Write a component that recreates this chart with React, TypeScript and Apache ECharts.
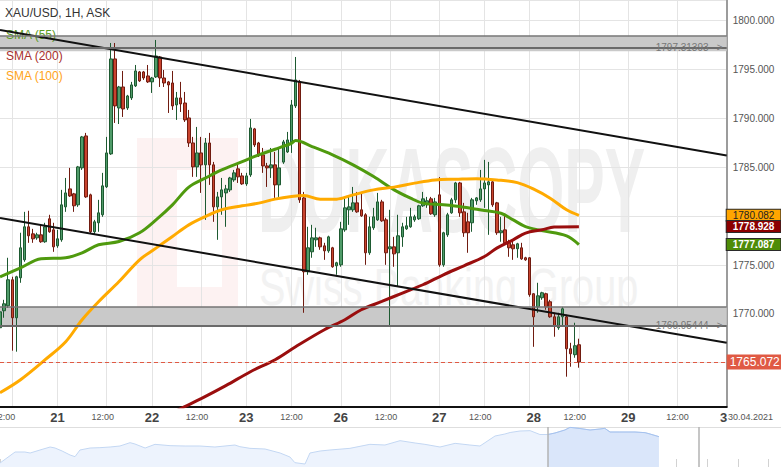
import React, { useEffect, useRef } from "react";
import * as echarts from "echarts";

const FONT = "'Liberation Sans', Arial, Helvetica, sans-serif";

// ---- Hourly candles (XAU/USD, 1H, ASK) ----
const opens = [
  1768.58, 1770.32, 1770.83, 1773.49, 1769.6, 1773.69, 1775.53, 1778.91, 1778.19, 1777.78,
  1778.09, 1777.38, 1779.73, 1778.6, 1776.96, 1777.58, 1780.95, 1782.79, 1782.28, 1781.16,
  1784.94, 1788.21, 1782.18, 1778.4, 1779.32, 1780.14, 1783.0, 1786.37, 1796.09, 1791.07,
  1793.22, 1791.07, 1792.1, 1793.33, 1794.76, 1794.76, 1794.35, 1793.74, 1794.25, 1796.29,
  1794.14, 1793.74, 1793.63, 1791.38, 1792.1, 1791.58, 1790.05, 1787.49, 1785.04, 1786.47,
  1785.25, 1787.49, 1785.25, 1780.95, 1781.97, 1782.38, 1782.69, 1783.71, 1784.84, 1784.12,
  1783.3, 1784.22, 1788.93, 1787.49, 1786.27, 1785.14, 1784.94, 1785.25, 1783.2, 1785.53,
  1786.57, 1787.6, 1791.28, 1793.74, 1781.87, 1774.31, 1776.35, 1777.58, 1777.78, 1776.96,
  1776.45, 1776.76, 1774.92, 1775.02, 1778.6, 1780.65, 1780.65, 1781.36, 1780.65, 1780.14,
  1776.25, 1778.81, 1779.62, 1781.46, 1779.62, 1776.66, 1776.86, 1776.25, 1777.88, 1778.7,
  1778.91, 1779.62, 1779.73, 1781.06, 1781.16, 1781.77, 1780.14, 1782.18, 1775.02, 1778.09,
  1780.34, 1781.67, 1783.4, 1780.44, 1779.42, 1779.32, 1781.57, 1781.67, 1782.79, 1783.2,
  1783.51, 1781.36, 1778.3, 1778.6, 1777.27, 1777.07, 1776.66, 1776.76, 1775.74, 1775.74,
  1772.06, 1770.72, 1771.65, 1772.06, 1771.24, 1769.7, 1768.58, 1769.7, 1769.7, 1766.43,
  1765.82, 1766.84,
];
const closes = [
  1770.21, 1771.03, 1773.49, 1769.6, 1773.8, 1776.76, 1778.91, 1777.99, 1777.68, 1778.09,
  1777.38, 1778.91, 1778.4, 1776.86, 1777.68, 1781.16, 1782.38, 1782.07, 1781.06, 1785.04,
  1788.11, 1781.97, 1778.4, 1779.42, 1780.34, 1783.1, 1786.47, 1796.09, 1791.28, 1793.22,
  1790.97, 1792.3, 1793.43, 1794.86, 1793.84, 1794.14, 1793.74, 1794.14, 1796.39, 1794.14,
  1793.63, 1793.43, 1791.28, 1792.1, 1791.48, 1789.85, 1787.49, 1785.04, 1786.47, 1785.25,
  1787.49, 1785.25, 1780.95, 1781.97, 1782.69, 1782.79, 1783.91, 1784.43, 1784.02, 1783.3,
  1784.12, 1789.03, 1787.29, 1786.17, 1785.14, 1784.94, 1785.25, 1783.2, 1784.94, 1787.6,
  1787.8, 1791.38, 1793.94, 1781.67, 1774.31, 1776.76, 1777.78, 1777.78, 1776.86, 1776.45,
  1777.88, 1774.82, 1775.23, 1778.7, 1780.85, 1780.95, 1781.36, 1780.44, 1780.03, 1776.25,
  1778.91, 1779.93, 1781.46, 1779.52, 1776.25, 1776.86, 1776.14, 1777.99, 1778.91, 1779.01,
  1779.93, 1779.93, 1781.06, 1781.77, 1781.57, 1780.24, 1781.46, 1775.02, 1778.3, 1780.14,
  1781.67, 1783.4, 1780.34, 1778.3, 1778.3, 1781.67, 1781.87, 1782.79, 1783.4, 1783.51,
  1781.16, 1778.3, 1778.5, 1777.27, 1776.76, 1776.66, 1777.17, 1775.63, 1775.53, 1771.96,
  1769.7, 1771.85, 1772.16, 1770.72, 1769.7, 1768.78, 1769.7, 1770.52, 1766.43, 1765.92,
  1766.74, 1765.072,
];
const lows = [
  1768.17, 1769.6, 1770.62, 1766.23, 1766.13, 1773.18, 1775.33, 1777.27, 1777.27, 1777.58,
  1777.27, 1777.27, 1778.3, 1776.35, 1776.76, 1777.38, 1780.44, 1781.97, 1780.44, 1780.95,
  1784.73, 1781.87, 1778.19, 1778.09, 1778.4, 1779.93, 1782.89, 1786.27, 1789.54, 1789.43,
  1790.15, 1790.87, 1791.89, 1793.22, 1793.74, 1793.94, 1793.63, 1792.61, 1794.14, 1793.22,
  1793.22, 1790.56, 1790.87, 1789.85, 1790.66, 1789.64, 1787.08, 1784.02, 1784.02, 1782.38,
  1779.62, 1783.2, 1779.42, 1777.58, 1780.14, 1778.91, 1782.48, 1783.51, 1783.4, 1783.2,
  1783.1, 1784.02, 1787.08, 1786.06, 1784.43, 1782.99, 1783.91, 1781.87, 1781.97, 1785.35,
  1786.47, 1786.47, 1791.07, 1781.36, 1770.11, 1774.0, 1775.74, 1776.86, 1776.56, 1775.53,
  1776.25, 1774.72, 1774.0, 1774.82, 1778.4, 1779.11, 1780.44, 1780.34, 1779.93, 1775.02,
  1776.04, 1778.6, 1779.52, 1779.42, 1775.02, 1768.68, 1774.82, 1772.82, 1776.86, 1778.6,
  1778.81, 1779.42, 1779.62, 1780.95, 1780.85, 1780.14, 1779.93, 1774.82, 1774.82, 1777.88,
  1780.24, 1781.36, 1779.93, 1777.88, 1776.25, 1778.4, 1781.16, 1781.46, 1780.85, 1778.09,
  1780.95, 1778.09, 1777.38, 1777.07, 1775.84, 1775.53, 1775.74, 1775.53, 1775.43, 1771.75,
  1766.63, 1770.11, 1771.44, 1770.42, 1769.6, 1767.66, 1768.37, 1768.68, 1763.57, 1764.59,
  1765.51, 1764.49,
];
const highs = [
  1770.62, 1771.44, 1775.74, 1773.8, 1773.9, 1778.3, 1780.44, 1780.55, 1778.7, 1778.3,
  1779.11, 1779.32, 1780.14, 1779.32, 1778.6, 1782.69, 1783.91, 1784.94, 1782.38, 1785.14,
  1788.21, 1788.52, 1782.3, 1779.62, 1781.67, 1784.43, 1788.11, 1797.72, 1797.72, 1793.33,
  1794.86, 1792.41, 1793.74, 1795.47, 1794.86, 1794.86, 1795.47, 1794.25, 1798.03, 1796.39,
  1794.96, 1793.84, 1794.86, 1792.71, 1793.74, 1792.71, 1790.87, 1788.11, 1789.13, 1788.11,
  1788.0, 1788.52, 1785.55, 1782.48, 1783.91, 1783.2, 1784.02, 1784.73, 1785.25, 1784.43,
  1784.43, 1789.95, 1789.03, 1787.6, 1786.98, 1785.45, 1786.98, 1786.57, 1786.98, 1787.8,
  1788.62, 1791.89, 1796.29, 1793.94, 1782.48, 1778.91, 1779.11, 1778.81, 1777.9, 1777.27,
  1778.0, 1776.86, 1775.33, 1779.42, 1781.87, 1781.97, 1782.99, 1782.48, 1782.48, 1780.3,
  1779.93, 1780.85, 1782.38, 1781.67, 1779.83, 1780.65, 1777.88, 1780.14, 1779.32, 1779.93,
  1780.85, 1780.14, 1781.16, 1782.48, 1781.97, 1781.97, 1781.87, 1784.0, 1778.4, 1780.34,
  1781.87, 1783.51, 1783.51, 1781.36, 1780.34, 1781.87, 1781.95, 1784.73, 1785.76, 1785.55,
  1783.6, 1781.46, 1779.93, 1780.14, 1777.58, 1777.58, 1777.27, 1777.27, 1775.84, 1775.8,
  1772.1, 1773.18, 1772.26, 1772.16, 1771.44, 1770.11, 1770.11, 1770.72, 1769.91, 1767.04,
  1769.09, 1767.46,
];

// ---- Moving averages, read at [slot, value] ----
const sma55 = [
  [0, 1773.79], [5, 1774.71], [10, 1775.63], [16, 1775.74], [20, 1776.25], [24, 1777.07],
  [29, 1777.4], [34, 1778.3], [38, 1779.62], [42, 1781.16], [46, 1782.97], [50, 1783.89],
  [54, 1784.73], [59, 1785.58], [63, 1786.27], [67, 1786.85], [71, 1787.46], [72, 1787.73],
  [76, 1787.12], [81, 1786.27], [86, 1785.25], [91, 1784.05], [96, 1782.69], [100, 1781.84],
  [103, 1781.33], [108, 1781.16], [113, 1780.92], [118, 1780.57], [122, 1780.3], [125, 1779.62],
  [128, 1778.93], [132, 1778.52], [138, 1777.98], [141, 1777.087],
];
const sma100 = [
  [0, 1761.93], [5, 1763.26], [11, 1765.31], [16, 1767.15], [20, 1769.4], [24, 1771.24],
  [29, 1773.31], [34, 1775.53], [38, 1776.73], [42, 1777.92], [46, 1779.11], [50, 1779.96],
  [54, 1780.65], [59, 1781.06], [63, 1781.33], [67, 1781.74], [71, 1782.01], [74, 1782.11],
  [78, 1781.74], [82, 1781.74], [86, 1782.18], [91, 1782.69], [96, 1782.97], [101, 1783.38],
  [106, 1783.71], [111, 1783.78], [116, 1783.84], [121, 1783.71], [126, 1783.43], [130, 1782.76],
  [134, 1781.84], [138, 1780.65], [141, 1780.082],
];
const sma200 = [
  [40, 1759.48], [45, 1760.5], [49, 1761.32], [55, 1762.65], [61, 1764.08], [67, 1765.31],
  [72, 1766.64], [79, 1768.38], [84, 1769.4], [88, 1770.42], [93, 1771.27], [98, 1772.13],
  [103, 1772.98], [108, 1774.0], [113, 1774.92], [118, 1775.87], [121, 1776.73], [125, 1777.58],
  [128, 1778.27], [132, 1778.6], [135, 1778.88], [141, 1778.928],
];
const smaLast = { sma55: 1777.087, sma100: 1780.082, sma200: 1778.928 };

// ---- Levels / drawings ----
const lastPrice = 1765.072;
const upperTrend = [[0, 1799.04], [177, 1786.2]];
const lowerTrend = [[0, 1779.8], [177, 1767.04]];
const resistanceBand = [1798.42, 1796.87];
const resistanceLevel = 1797.26;
const resistanceText = "1797.31393";
const supportBand = [1770.7, 1768.82];
const supportLevel = 1768.82;
const supportText = "1769.95444";
// y-axis ticks hidden under the value boxes in the reference
const coveredTicks = [1765, 1780];

// ---- X axis (hourly slots, incl. empty future slots) ----
const SLOT_COUNT = 178;
const categories = Array.from({ length: SLOT_COUNT }, (_, i) => String(i));
const xLabelSlots = [1, 14, 25, 37, 48, 60, 71, 83, 94, 107, 117, 130, 140, 153, 165, 177];
const xLabelTexts = ["12:00", "21", "12:00", "22", "12:00", "23", "12:00", "26", "12:00", "27", "12:00", "28", "12:00", "29", "12:00", "3"];
const xGridSlots = [3, 14, 26, 37, 49, 60, 71, 83, 95, 107, 118, 129, 141, 153, 165];
const dateCaption = "30.04.2021";

// ---- Navigator (long history overview) ----
const navT = [
  0, 0.49, 0.81, 0.98, 1.3, 1.63, 1.79, 2.02, 2.28, 2.44, 2.6, 2.93, 3.25, 3.58, 3.9, 4.23, 4.39,
  4.72, 5.04, 5.53, 6.02, 6.5, 6.99, 7.64, 7.8, 8.13, 8.62, 9.11, 9.43, 9.59, 9.92, 10.08, 10.41,
  10.73, 11.38, 12.03, 12.52, 13.01, 13.5, 13.82, 14.31, 14.8, 15.28, 15.61, 16.1, 16.42, 16.59,
  16.91, 17.24, 17.56, 17.82, 18.05, 18.37, 18.54, 18.86, 19.19, 19.51, 19.67, 19.84, 20.16,
  20.65, 20.98, 21.14, 21.43,
];
const navV = [
  1692, 1725, 1725, 1722, 1731, 1740, 1737, 1728, 1716, 1711, 1731, 1737, 1738, 1740, 1743, 1753,
  1749, 1737, 1748, 1744, 1743, 1743, 1740, 1746, 1741, 1736, 1734, 1722, 1710, 1693, 1689, 1722,
  1728, 1731, 1736, 1748, 1746, 1759, 1752, 1748, 1740, 1751, 1746, 1743, 1773, 1779, 1783.5,
  1788, 1789, 1777.5, 1777.5, 1782, 1791, 1799, 1795.5, 1791, 1794, 1796, 1785, 1785, 1785,
  1783, 1779, 1771,
];
const navSelStart = 17.82;
const navHandleEnd = 22.72;
const navMax = 25.4;

function buildOption() {
  const labelAt = new Map<number, string>(xLabelSlots.map((s, k) => [s, xLabelTexts[k]]));
  const gridAt = new Set(xGridSlots);
  const dayTexts = new Set(["21", "22", "23", "26", "27", "28", "29"]);
  const candleData = opens.map((o, i) => [o, closes[i], lows[i], highs[i]]);
  const navData = navT.map((t, i) => [t, navV[i]]);
  const navSel = navData.filter((p) => p[0] >= navSelStart);

  const trendStyle = { color: "#111", width: 2, type: "solid" };
  const edgeStyle = { color: "#757575", width: 1.5, type: "solid" };
  const levelStyle = { color: "#6a6a6a", width: 2, type: "solid" };
  const levelLabel = (t: string) => ({
    show: true,
    position: "end",
    distance: -71,
    formatter: t + "   >",
    color: "#777",
    fontSize: 10,
    fontFamily: FONT,
  });
  const boxLabel = (v: number, bg: string, fg: string, bold: boolean) => ({
    show: true,
    position: "end",
    distance: 0,
    opacity: 1,
    formatter: v.toFixed(3),
    color: fg,
    fontWeight: bold ? "bold" : "normal",
    fontSize: 10,
    lineHeight: 10,
    fontFamily: FONT,
    backgroundColor: bg,
    borderColor: "#2a2a2a",
    borderWidth: 1,
    padding: [1, 6, 0, 6],
  });
  const smaSeries = (name: string, data: number[][], color: string, last: number, bg: string, fg: string, bold: boolean) => ({
    type: "line",
    name,
    xAxisIndex: 0,
    yAxisIndex: 0,
    data,
    smooth: 0.35,
    symbol: "none",
    showSymbol: false,
    silent: true,
    lineStyle: { color, width: 3 },
    itemStyle: { color },
    z: 3,
    markLine: {
      silent: true,
      symbol: ["none", "none"],
      data: [
        {
          yAxis: last,
          lineStyle: { color: "rgba(0,0,0,0)", width: 0, opacity: 1 },
          label: boxLabel(last, bg, fg, bold),
        },
      ],
    },
  });

  return {
    animation: false,
    backgroundColor: "#ffffff",
    textStyle: { fontFamily: FONT },
    title: {
      text: "XAU/USD, 1H, ASK",
      left: 5,
      top: 7,
      padding: 0,
      textStyle: { fontSize: 12, fontWeight: "normal", color: "#333", fontFamily: FONT },
    },
    legend: {
      orient: "vertical",
      left: 1,
      top: 28,
      padding: 0,
      itemWidth: 0,
      itemHeight: 14,
      itemGap: 6.5,
      icon: "rect",
      selectedMode: false,
      itemStyle: { opacity: 0 },
      lineStyle: { opacity: 0 },
      textStyle: { fontSize: 12, fontFamily: FONT },
      data: [
        { name: "SMA (55)", textStyle: { color: "#5c9b22" } },
        { name: "SMA (200)", textStyle: { color: "#a8302c" } },
        { name: "SMA (100)", textStyle: { color: "#ffa31a" } },
      ],
    },
    grid: [
      { left: 0, right: 54.3, top: 0, bottom: 60.3, containLabel: false, outerBoundsMode: "none" },
      { left: 0, right: 0, top: 427, bottom: 0, containLabel: false, outerBoundsMode: "none" },
    ],
    xAxis: [
      {
        type: "category",
        gridIndex: 0,
        data: categories,
        boundaryGap: false,
        axisLine: { onZero: false, lineStyle: { color: "#111", width: 2 } },
        axisTick: { show: false },
        axisLabel: {
          interval: (i: number) => labelAt.has(i),
          formatter: (v: string) => {
            const t = labelAt.get(Number(v)) || "";
            if (t === "3") return `{e|${t}}`;
            return dayTexts.has(t) ? `{d|${t}}` : `{t|${t}}`;
          },
          margin: 4,
          hideOverlap: false,
          rich: {
            d: { fontSize: 13, lineHeight: 14, fontWeight: "bold", color: "#444", fontFamily: FONT },
            e: { fontSize: 13, lineHeight: 14, fontWeight: "bold", color: "#444", fontFamily: FONT, padding: [0, 6, 0, 0] },
            t: { fontSize: 9, lineHeight: 12, color: "#555", fontFamily: FONT },
          },
        },
        splitLine: { show: true, interval: (i: number) => gridAt.has(i), lineStyle: { color: "#e4e4e4", width: 1 } },
      },
      {
        type: "value",
        gridIndex: 1,
        min: 0,
        max: navMax,
        interval: 1,
        axisLine: { show: false },
        axisTick: { show: true, inside: true, length: 8, lineStyle: { color: "#d2d2d2" } },
        axisLabel: { show: false },
        splitLine: { show: false },
      },
      {
        type: "value",
        gridIndex: 1,
        position: "top",
        min: 0,
        max: navMax,
        axisLine: { show: true, onZero: false, lineStyle: { color: "#dedede", width: 1 } },
        axisTick: { show: false },
        axisLabel: { show: false },
        splitLine: { show: false },
      },
    ],
    yAxis: [
      {
        type: "value",
        gridIndex: 0,
        position: "right",
        min: 1760.5,
        max: 1802.12,
        minInterval: 5,
        maxInterval: 5,
        axisLine: { show: true, onZero: false, lineStyle: { color: "#9c9c9c", width: 2 } },
        axisTick: { show: false },
        axisLabel: {
          margin: 6,
          showMinLabel: false,
          showMaxLabel: false,
          formatter: (v: number) => (coveredTicks.some((c) => Math.abs(c - v) < 1e-6) ? "" : v.toFixed(3)),
          color: "#555",
          fontSize: 10,
          fontFamily: FONT,
        },
        splitLine: { show: true, lineStyle: { color: "#e4e4e4", width: 1 } },
      },
      { type: "value", gridIndex: 1, min: 1680, max: 1800, show: false },
    ],
    series: [
      {
        type: "candlestick",
        name: "XAU/USD",
        xAxisIndex: 0,
        yAxisIndex: 0,
        data: candleData,
        barWidth: 3,
        silent: true,
        itemStyle: {
          color: "#4f9b69",
          color0: "#c8432e",
          borderColor: "#1d5a31",
          borderColor0: "#701b10",
          borderWidth: 1,
        },
        markArea: {
          silent: true,
          itemStyle: { color: "#c9c9c9" },
          label: { show: false },
          data: [
            [{ yAxis: resistanceBand[0] }, { yAxis: resistanceBand[1] }],
            [{ yAxis: supportBand[0] }, { yAxis: supportBand[1] }],
          ],
        },
        markLine: {
          silent: true,
          symbol: ["none", "none"],
          label: { show: false },
          data: [
            [
              { coord: upperTrend[0], lineStyle: trendStyle },
              { coord: upperTrend[1], lineStyle: trendStyle },
            ],
            [
              { coord: lowerTrend[0], lineStyle: trendStyle },
              { coord: lowerTrend[1], lineStyle: trendStyle },
            ],
            { yAxis: resistanceBand[0], lineStyle: edgeStyle },
            { yAxis: supportBand[0], lineStyle: edgeStyle },
            { yAxis: resistanceLevel, lineStyle: levelStyle, label: levelLabel(resistanceText) },
            { yAxis: supportLevel, lineStyle: levelStyle, label: levelLabel(supportText) },
            {
              yAxis: lastPrice,
              lineStyle: { color: "#e05a44", width: 1, type: [4, 3] },
              label: {
                show: true,
                position: "end",
                distance: 0,
                formatter: lastPrice.toFixed(3),
                color: "#fff",
                fontSize: 12,
                lineHeight: 12,
                fontFamily: FONT,
                backgroundColor: "#e05a44",
                padding: [2, 3, 1, 3],
              },
            },
          ],
        },
      },
      smaSeries("SMA (55)", sma55, "#4f9a0e", smaLast.sma55, "#4e8c08", "#fff", true),
      smaSeries("SMA (100)", sma100, "#ffaa00", smaLast.sma100, "#ffa500", "#222", false),
      smaSeries("SMA (200)", sma200, "#9a0e0e", smaLast.sma200, "#8b0000", "#fff", true),
      {
        type: "line",
        xAxisIndex: 1,
        yAxisIndex: 1,
        data: navData,
        symbol: "none",
        silent: true,
        lineStyle: { color: "#c3d7f3", width: 1 },
        areaStyle: { color: "#edf3fd", opacity: 1 },
        markLine: {
          silent: true,
          symbol: ["none", "none"],
          label: { show: false },
          lineStyle: { color: "#b3b3b3", width: 1.5, type: "solid" },
          data: [{ xAxis: navSelStart }, { xAxis: navHandleEnd }],
        },
      },
      {
        type: "line",
        xAxisIndex: 1,
        yAxisIndex: 1,
        data: navSel,
        symbol: "none",
        silent: true,
        lineStyle: { color: "#a6c2ee", width: 1 },
        areaStyle: { color: "#dae6fa", opacity: 1 },
      },
    ],
    graphic: {
      elements: [
        { type: "rect", z: -1, silent: true, shape: { x: 137, y: 138, width: 101, height: 179 }, style: { fill: "#fdf2f2" } },
        { type: "rect", z: -1, silent: true, shape: { x: 177, y: 170, width: 24, height: 117 }, style: { fill: "#ffffff" } },
        { type: "rect", z: -1, silent: true, shape: { x: 201, y: 230, width: 21, height: 57 }, style: { fill: "#ffffff" } },
        {
          type: "text",
          z: -1,
          silent: true,
          x: 258,
          y: 190,
          scaleX: 0.505,
          style: {
            text: "DUKASCOPY",
            fill: "#efefef",
            fontSize: 120,
            fontWeight: "bold",
            fontFamily: FONT,
            textAlign: "left",
            textVerticalAlign: "middle",
            align: "left",
            verticalAlign: "middle",
          },
        },
        {
          type: "text",
          z: -1,
          silent: true,
          x: 259,
          y: 287.5,
          scaleX: 0.763,
          style: {
            text: "Swiss Banking Group",
            fill: "#f2f2f2",
            fontSize: 52,
            fontFamily: FONT,
            textAlign: "left",
            textVerticalAlign: "middle",
            align: "left",
            verticalAlign: "middle",
          },
        },
        {
          type: "text",
          z: 20,
          silent: true,
          x: 728,
          y: 417,
          style: {
            text: dateCaption,
            fill: "#555",
            fontSize: 9,
            fontFamily: FONT,
            textAlign: "left",
            textVerticalAlign: "middle",
            align: "left",
            verticalAlign: "middle",
          },
        },
      ],
    },
  };
}

export default function App() {
  const ref = useRef<HTMLDivElement>(null);
  useEffect(() => {
    if (!ref.current) return;
    const chart = echarts.init(ref.current, null, { renderer: "svg" });
    chart.setOption(buildOption() as any);
    return () => chart.dispose();
  }, []);
  return (
    <div
      ref={ref}
      style={{ position: "absolute", left: 0, top: 0, width: 781, height: 467, background: "#fff" }}
    />
  );
}
